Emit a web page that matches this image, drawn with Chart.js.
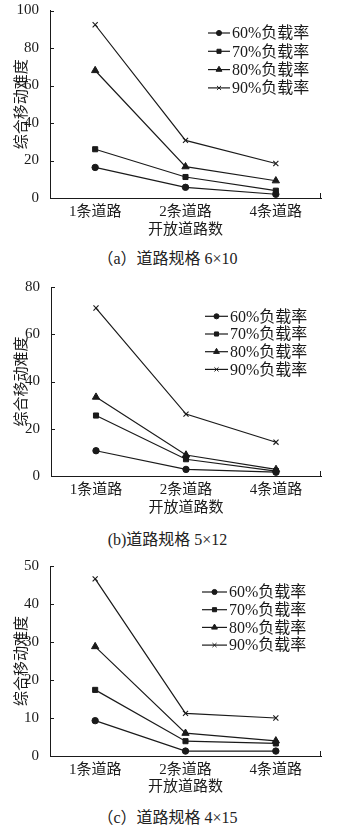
<!DOCTYPE html>
<html>
<head>
<meta charset="utf-8">
<script src="https://cdn.jsdelivr.net/npm/chart.js@4"></script>
<style>
body { margin: 0; background: #fff; width: 351px; height: 829px; position: relative; overflow: hidden; }
.box { position: absolute; left: 0; width: 351px; }
.cap { position: absolute; left: -8px; width: 351px; text-align: center; font: 16px "Liberation Serif", "Noto Sans CJK SC"; color: #222; line-height: 18px; }
</style>
</head>
<body>
<div class="box" style="top:0;height:239px"><canvas id="ca"></canvas></div>
<div class="cap" style="top:250px">（a）道路规格 6×10</div>
<div class="box" style="top:275px;height:242px"><canvas id="cb"></canvas></div>
<div class="cap" style="top:531px">(b)道路规格 5×12</div>
<div class="box" style="top:550px;height:246px"><canvas id="cc"></canvas></div>
<div class="cap" style="top:809px">（c）道路规格 4×15</div>

<script>
/* data */
const categories = ['1条道路', '2条道路', '4条道路'];
const loadLabels = ['60%负载率', '70%负载率', '80%负载率', '90%负载率'];

// (a) 6x10
const a60 = [16.3, 5.7, 2.0];
const a70 = [26.0, 11.2, 3.9];
const a80 = [68.0, 16.7, 9.2];
const a90 = [92.4, 30.7, 18.4];

// (b) 5x12
const b60 = [10.7, 2.8, 1.6];
const b70 = [25.6, 7.1, 2.1];
const b80 = [33.4, 8.9, 2.8];
const b90 = [71.1, 26.2, 14.3];

// (c) 4x15
const c60 = [9.3, 1.3, 1.3];
const c70 = [17.4, 3.9, 3.3];
const c80 = [28.8, 6.0, 4.0];
const c90 = [46.6, 11.2, 10.0];

const ink = '#1a1a1a';
const fam = '"Liberation Serif", "Noto Sans CJK SC"';
const styles = ['circle', 'rect', 'triangle', 'crossRot'];
const radii = [3.2, 3.6, 4.2, 3.6];

/* inner tick marks on y axis + end tick on x axis */
const axisTicks = {
	id: 'axisTicks',
	afterDraw(chart) {
		const ctx = chart.ctx;
		const a = chart.chartArea;
		const y = chart.scales.y;
		ctx.save();
		ctx.strokeStyle = ink;
		ctx.lineWidth = 1;
		ctx.beginPath();
		y.ticks.forEach(t => {
			const p = Math.round(y.getPixelForValue(t.value)) + 0.5;
			ctx.moveTo(a.left, p);
			ctx.lineTo(a.left + 4, p);
		});
		ctx.moveTo(a.right - 0.5, a.bottom);
		ctx.lineTo(a.right - 0.5, a.bottom - 5);
		ctx.stroke();
		ctx.restore();
	}
};

/* legend: short line with marker in the middle */
const lineLegend = {
	id: 'lineLegend',
	afterDraw(chart, args, opts) {
		const ctx = chart.ctx;
		ctx.save();
		chart.data.datasets.forEach((ds, i) => {
			const y = opts.y + i * opts.gap;
			ctx.strokeStyle = ink;
			ctx.fillStyle = ink;
			ctx.lineWidth = 1.2;
			ctx.beginPath();
			ctx.moveTo(opts.x, y);
			ctx.lineTo(opts.x + opts.len, y);
			ctx.stroke();
			ctx.lineWidth = 1;
			Chart.helpers.drawPoint(ctx, {
				pointStyle: ds.pointStyle,
				radius: ds.pointRadius * 0.8,
				borderWidth: 1,
				rotation: 0
			}, opts.x + opts.len / 2, y);
			ctx.font = '16px ' + fam;
			ctx.textBaseline = 'middle';
			ctx.textAlign = 'left';
			ctx.fillText(ds.label, opts.x + opts.len + 2, y + 1);
		});
		ctx.restore();
	}
};

function makeChart(id, series, max, step, lay) {
	const datasets = series.map((vals, i) => ({
		label: loadLabels[i],
		data: vals,
		borderColor: ink,
		backgroundColor: ink,
		borderWidth: 1.2,
		pointStyle: styles[i],
		pointRadius: radii[i],
		pointBorderWidth: i === 3 ? 1.1 : 1,
		pointBackgroundColor: ink,
		pointBorderColor: ink,
		tension: 0,
		clip: false
	}));

	return new Chart(document.getElementById(id), {
		type: 'line',
		data: { labels: categories, datasets: datasets },
		options: {
			responsive: true,
			maintainAspectRatio: false,
			animation: false,
			layout: { padding: { left: 0, right: lay.right, top: lay.top, bottom: 0 } },
			plugins: {
				legend: { display: false },
				tooltip: { enabled: false },
				lineLegend: lay.legend
			},
			scales: {
				x: {
					offset: true,
					grid: { display: false },
					border: { color: ink, width: 1 },
					ticks: { color: ink, padding: -3, font: { family: fam, size: 15 } },
					title: { display: true, text: '开放道路数', color: ink, padding: 0, font: { family: fam, size: 15 } },
					afterFit: (s) => { s.height = lay.xh; }
				},
				y: {
					min: 0,
					max: max,
					grid: { display: false },
					border: { color: ink, width: 1 },
					ticks: { stepSize: step, color: ink, padding: 3, font: { family: fam, size: 15, lineHeight: 1 } },
					title: { display: true, text: '综合移动难度', color: ink, padding: { top: 13, bottom: 0 }, font: { family: fam, size: 15 } },
					afterFit: (s) => { s.width = lay.left; }
				}
			}
		},
		plugins: [axisTicks, lineLegend]
	});
}

makeChart('ca', [a60, a70, a80, a90], 100, 20, {
	left: 50, right: 30, top: 10, xh: 41,
	legend: { x: 208, y: 33, gap: 18.3, len: 22 }
});
makeChart('cb', [b60, b70, b80, b90], 80, 20, {
	left: 51, right: 30, top: 12, xh: 41,
	legend: { x: 205, y: 41.3, gap: 17.7, len: 23 }
});
makeChart('cc', [c60, c70, c80, c90], 50, 10, {
	left: 50, right: 30, top: 16, xh: 40,
	legend: { x: 202, y: 42, gap: 17.7, len: 25 }
});
</script>
</body>
</html>
